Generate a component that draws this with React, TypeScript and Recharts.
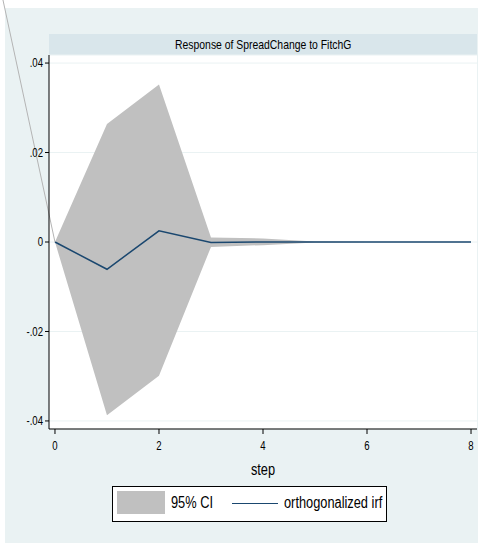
import React from 'react';
import { ComposedChart, Area, Line, XAxis, YAxis, CartesianGrid, ReferenceLine } from 'recharts';

const steps = [0, 1, 2, 3, 4, 5, 6, 7, 8];
const irf = [0, -0.0061, 0.0025, -0.0001, 0, 0, 0, 0, 0];
const ciLower = [0, -0.0387, -0.0299, -0.0011, -0.0007, -0.0001, 0, 0, 0];
const ciUpper = [0, 0.0264, 0.0352, 0.001, 0.0008, 0.0001, 0, 0, 0];
const xTicks = [0, 2, 4, 6, 8];
const yTicks = [-0.04, -0.02, 0, 0.02, 0.04];

const data = steps.map((s, i) => ({ step: s, irf: irf[i], ci: [ciLower[i], ciUpper[i]] }));

const FONT = "'Liberation Sans', Arial, sans-serif";
const NAVY = '#1a476f';
const CI_GRAY = '#c0c0c0';
const SQUEEZE = 0.8;

const fmtY = (v: number) => {
  if (v === 0) return '0';
  return v.toFixed(2).replace('0.', '.');
};

// condensed look: the Stata narrow font isn't available, so squeeze horizontally
function NarrowTick(props: any) {
  const { x, y, payload, textAnchor, tickFormatter, axis } = props;
  const label = tickFormatter ? tickFormatter(payload.value) : String(payload.value);
  const dy = axis === 'x' ? '0.71em' : '0.35em';
  return (
    <text
      transform={`translate(${x},${y}) scale(${SQUEEZE},1)`}
      textAnchor={textAnchor}
      dy={dy}
      fill="#000"
      fontSize={12}
      fontFamily={FONT}
    >
      {label}
    </text>
  );
}

function StepLabel(props: any) {
  const { viewBox } = props;
  const cx = viewBox.x + viewBox.width / 2;
  const by = viewBox.y + viewBox.height - 4;
  return (
    <text
      transform={`translate(${cx},${by}) scale(${SQUEEZE},1)`}
      textAnchor="middle"
      fill="#000"
      fontSize={16}
      fontFamily={FONT}
    >
      step
    </text>
  );
}

const narrow: React.CSSProperties = {
  display: 'inline-block',
  transform: `scaleX(${SQUEEZE})`,
  whiteSpace: 'nowrap',
};

function LegendBox() {
  return (
    <div
      style={{
        position: 'absolute',
        left: 112,
        top: 486,
        width: 273,
        height: 34,
        border: '1px solid #000',
        background: '#fff',
        fontFamily: FONT,
        fontSize: 16,
        color: '#000',
      }}
    >
      <span style={{ position: 'absolute', left: 4, top: 4, width: 48, height: 23, background: CI_GRAY }} />
      <span style={{ ...narrow, position: 'absolute', left: 58, top: 7, lineHeight: '18px', transformOrigin: 'left center' }}>
        95% CI
      </span>
      <span style={{ position: 'absolute', left: 119, top: 16, width: 46, height: 0, borderTop: `1.5px solid ${NAVY}` }} />
      <span style={{ ...narrow, position: 'absolute', left: 171, top: 7, lineHeight: '18px', transformOrigin: 'left center' }}>
        orthogonalized irf
      </span>
    </div>
  );
}

export default function App() {
  return (
    <div style={{ position: 'relative', width: 478, height: 543, background: '#fff', overflow: 'hidden' }}>
      <style>{'body{margin:0}'}</style>
      <div style={{ position: 'absolute', left: 5, top: 8, right: 0, bottom: 0, background: '#eaf2f3' }} />
      <div
        style={{
          position: 'absolute',
          left: 49,
          top: 34,
          width: 428,
          height: 21,
          background: '#d9e6eb',
          fontFamily: FONT,
          fontSize: 13,
          lineHeight: '21px',
          textAlign: 'center',
          color: '#000',
        }}
      >
        <span style={{ ...narrow, transformOrigin: 'center center' }}>Response of SpreadChange to FitchG</span>
      </div>
      <div style={{ position: 'absolute', left: 0, top: 0 }}>
        <ComposedChart width={478} height={543} data={data} margin={{ top: 55, right: 1, bottom: 64, left: 0 }}>
          <CartesianGrid horizontal vertical={false} stroke="#eaf2f3" strokeWidth={1} fill="#fff" />
          <XAxis
            dataKey="step"
            type="number"
            domain={[-0.115, 8.115]}
            ticks={xTicks}
            height={50}
            tickSize={5}
            tickMargin={7}
            stroke="#000"
            tick={<NarrowTick axis="x" />}
            label={<StepLabel />}
          />
          <YAxis
            type="number"
            domain={[-0.0418, 0.0418]}
            ticks={yTicks}
            tickFormatter={fmtY}
            width={49}
            tickSize={4}
            tickMargin={2}
            stroke="#000"
            tick={<NarrowTick axis="y" tickFormatter={fmtY} />}
          />
          <Area
            dataKey="ci"
            type="linear"
            stroke="none"
            fill={CI_GRAY}
            fillOpacity={1}
            isAnimationActive={false}
          />
          <Line
            dataKey="irf"
            type="linear"
            stroke={NAVY}
            strokeWidth={1.5}
            dot={false}
            isAnimationActive={false}
          />
          <ReferenceLine
            segment={[{ x: -1.0, y: 0.0541 }, { x: 0, y: 0 }]}
            ifOverflow="visible"
            stroke="#b4b4b4"
            strokeWidth={1}
          />
        </ComposedChart>
      </div>
      <LegendBox />
    </div>
  );
}
